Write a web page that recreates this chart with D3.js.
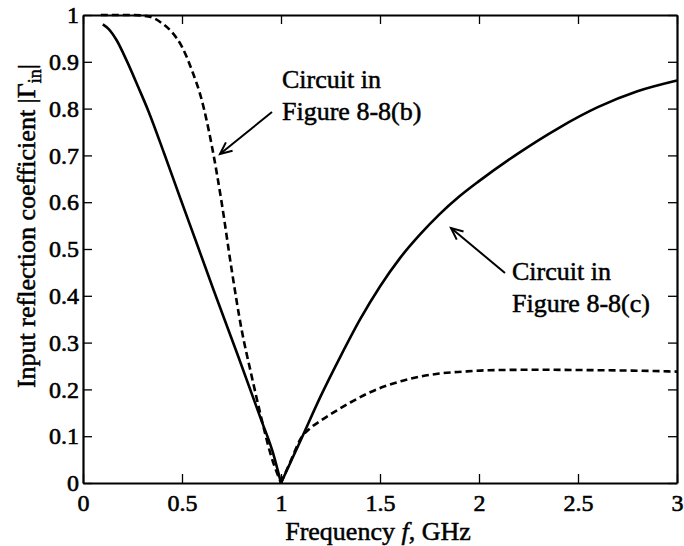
<!DOCTYPE html>
<html>
<head>
<meta charset="utf-8">
<script src="https://cdn.jsdelivr.net/npm/d3@7"></script>
<style>
  body { margin: 0; background: #fff; }
  svg text { font-family: "Liberation Serif", "Times New Roman", serif; fill: #000; }
</style>
</head>
<body>
<svg id="chart" width="684" height="546"></svg>
<script>
// values

// circuit in Figure 8-8(c), solid
const freqC = [0.10, 0.13, 0.17, 0.22, 0.28, 0.33, 0.41, 0.49, 0.57, 0.66, 0.78, 0.90, 0.96, 1.00,
  1.10, 1.20, 1.30, 1.40, 1.50, 1.60, 1.70, 1.80, 1.90, 2.00, 2.20, 2.40, 2.60, 2.80, 3.00];
const gammaC = [0.980, 0.970, 0.946, 0.903, 0.845, 0.795, 0.704, 0.610, 0.517, 0.412, 0.275, 0.135, 0.064, 0.0,
  0.092, 0.185, 0.270, 0.350, 0.420, 0.480, 0.530, 0.574, 0.612, 0.645, 0.705, 0.758, 0.803, 0.837, 0.860];

// circuit in Figure 8-8(b), dashed
const freqB = [0.09, 0.25, 0.33, 0.40, 0.45, 0.50, 0.55, 0.60, 0.65, 0.70, 0.75, 0.80, 0.85, 0.90, 0.95, 1.00,
  1.05, 1.10, 1.15, 1.20, 1.27, 1.35, 1.44, 1.52, 1.61, 1.70, 1.80, 1.92, 2.05, 2.30, 2.60, 2.80, 3.00];
const gammaB = [1.0, 1.0, 0.997, 0.982, 0.963, 0.932, 0.882, 0.818, 0.722, 0.600, 0.458, 0.330, 0.232, 0.140, 0.058, 0.0,
  0.048, 0.095, 0.118, 0.133, 0.152, 0.172, 0.192, 0.206, 0.218, 0.227, 0.234, 0.238, 0.241, 0.242, 0.241, 0.240, 0.238];

const xTicks = [0, 0.5, 1, 1.5, 2, 2.5, 3];
const xTickLabels = ["0", "0.5", "1", "1.5", "2", "2.5", "3"];
const yTicks = [0, 0.1, 0.2, 0.3, 0.4, 0.5, 0.6, 0.7, 0.8, 0.9, 1];
const yTickLabels = ["0", "0.1", "0.2", "0.3", "0.4", "0.5", "0.6", "0.7", "0.8", "0.9", "1"];

const margin = { top: 15, right: 7, bottom: 63, left: 83 };
const width = 684, height = 546;

const svg = d3.select("#chart");

const x = d3.scaleLinear().domain([0, 3]).range([margin.left, width - margin.right]);
const y = d3.scaleLinear().domain([0, 1]).range([height - margin.bottom, margin.top]);

// + LINES (split at the match point so the V stays sharp)
const lineGen = d3.line()
  .x(d => x(d[0]))
  .y(d => y(d[1]))
  .curve(d3.curveMonotoneX);

const branches = (fs, gs) => {
  const pts = fs.map((f, i) => [f, gs[i]]);
  return [pts.filter(d => d[0] <= 1), pts.filter(d => d[0] >= 1)];
};

svg.selectAll(".lineC")
  .data(branches(freqC, gammaC))
  .join("path")
  .attr("class", "lineC")
  .attr("fill", "none")
  .attr("stroke", "#000")
  .attr("stroke-width", 2.6)
  .attr("d", d => lineGen(d));

svg.selectAll(".lineB")
  .data(branches(freqB, gammaB))
  .join("path")
  .attr("class", "lineB")
  .attr("fill", "none")
  .attr("stroke", "#000")
  .attr("stroke-width", 2.6)
  .attr("stroke-dasharray", "7,4")
  .attr("d", d => lineGen(d));

// + AXES (ticks point inward on all four sides)
const tickLen = 9;
const fmtX = d => xTickLabels[xTicks.indexOf(d)];
const fmtY = d => yTickLabels[yTicks.indexOf(d)];

const gx = svg.append("g")
  .attr("transform", `translate(0, ${y(0)})`)
  .call(d3.axisBottom(x).tickValues(xTicks).tickFormat(fmtX)
    .tickSizeInner(-tickLen).tickSizeOuter(0).tickPadding(11));

const gy = svg.append("g")
  .attr("transform", `translate(${x(0)}, 0)`)
  .call(d3.axisLeft(y).tickValues(yTicks).tickFormat(fmtY)
    .tickSizeInner(-tickLen).tickSizeOuter(0).tickPadding(4));

const gt = svg.append("g")
  .attr("transform", `translate(0, ${y(1)})`)
  .call(d3.axisTop(x).tickValues(xTicks).tickFormat("")
    .tickSizeInner(-tickLen).tickSizeOuter(0));

const gr = svg.append("g")
  .attr("transform", `translate(${x(3)}, 0)`)
  .call(d3.axisRight(y).tickValues(yTicks).tickFormat("")
    .tickSizeInner(-tickLen).tickSizeOuter(0));

[gx, gy, gt, gr].forEach(g => {
  g.select(".domain").attr("stroke", "#000").attr("stroke-width", 2.2);
  g.selectAll(".tick line").attr("stroke", "#000").attr("stroke-width", 1.3);
  g.selectAll(".tick text").attr("font-size", 24)
    .attr("stroke", "#000").attr("stroke-width", 0.6);
});

// + AXIS LABELS
const xLabel = svg.append("text")
  .attr("x", 378)
  .attr("y", 540)
  .attr("text-anchor", "middle")
  .attr("font-size", 26)
  .attr("stroke", "#000").attr("stroke-width", 0.5);
xLabel.append("tspan").text("Frequency ");
xLabel.append("tspan").attr("font-style", "italic").text("f");
xLabel.append("tspan").text(", GHz");

const yLabel = svg.append("text")
  .attr("transform", `translate(35, 226) rotate(-90)`)
  .attr("text-anchor", "middle")
  .attr("font-size", 26)
  .attr("stroke", "#000").attr("stroke-width", 0.5);
yLabel.append("tspan").text("Input reflection coefficient |\u0393");
yLabel.append("tspan").attr("font-size", 18).attr("dy", 6).text("in");
yLabel.append("tspan").attr("dy", -6).text("|");

// + ANNOTATIONS
const notes = [
  { lines: ["Circuit in", "Figure 8-8(b)"], tx: 282, ty: 88, from: [272, 112], to: [220, 154] },
  { lines: ["Circuit in", "Figure 8-8(c)"], tx: 512, ty: 280, from: [505, 273], to: [451, 228] }
];

notes.forEach(n => {
  const t = svg.append("text")
    .attr("x", n.tx).attr("y", n.ty)
    .attr("font-size", 26)
    .attr("stroke", "#000").attr("stroke-width", 0.5);
  n.lines.forEach((s, i) => t.append("tspan").attr("x", n.tx).attr("dy", i ? 32 : 0).text(s));

  svg.append("line")
    .attr("x1", n.from[0]).attr("y1", n.from[1])
    .attr("x2", n.to[0]).attr("y2", n.to[1])
    .attr("stroke", "#000").attr("stroke-width", 2);

  // arrow head
  const ang = Math.atan2(n.to[1] - n.from[1], n.to[0] - n.from[0]);
  const L = 13, w = 0.42;
  const p1 = [n.to[0] - L * Math.cos(ang - w), n.to[1] - L * Math.sin(ang - w)];
  const p2 = [n.to[0] - L * Math.cos(ang + w), n.to[1] - L * Math.sin(ang + w)];
  svg.append("path")
    .attr("d", `M${p1}L${n.to}L${p2}`)
    .attr("fill", "none")
    .attr("stroke", "#000").attr("stroke-width", 2);
});
</script>
</body>
</html>
